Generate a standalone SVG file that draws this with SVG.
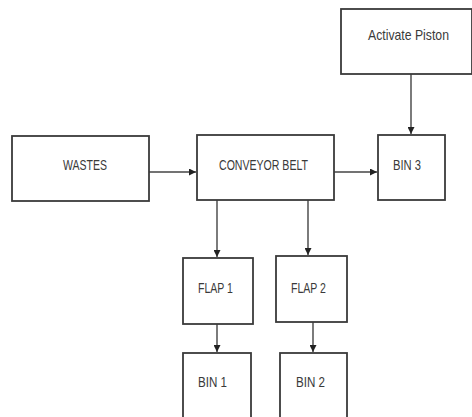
<svg xmlns="http://www.w3.org/2000/svg" width="472" height="417" viewBox="0 0 472 417">
<defs>
<style>
.box{fill:#fff;stroke:#3a3a3a;stroke-width:1.8}
.lbl{font-family:"Liberation Sans",Arial,sans-serif;font-size:14.5px;fill:#3a3a3a;text-anchor:middle;dominant-baseline:central}
.conn{stroke:#444;stroke-width:1.4;fill:none;marker-end:url(#ah)}
</style>
<marker id="ah" viewBox="0 0 10 10" refX="10" refY="5" markerWidth="7" markerHeight="7" markerUnits="userSpaceOnUse" orient="auto">
<path d="M0,0 L10,5 L0,10 z" fill="#222"/>
</marker>
</defs>
<rect width="472" height="417" fill="#fff"/>
<g id="connectors">
<line class="conn" x1="411" y1="74" x2="411" y2="134"/>
<line class="conn" x1="149" y1="172" x2="196" y2="172"/>
<line class="conn" x1="334" y1="172" x2="377" y2="172"/>
<line class="conn" x1="217" y1="200" x2="217" y2="257"/>
<line class="conn" x1="308" y1="200" x2="308" y2="255"/>
<line class="conn" x1="217" y1="324" x2="217" y2="352"/>
<line class="conn" x1="313" y1="322" x2="313" y2="352"/>
</g>
<g id="piston">
<rect class="box" x="341" y="9" width="131" height="65"/>
<text class="lbl" x="408.5" y="35" textLength="81" lengthAdjust="spacingAndGlyphs">Activate Piston</text>
</g>
<g id="wastes">
<rect class="box" x="12" y="136" width="137" height="65"/>
<text class="lbl" x="85" y="165" textLength="44" lengthAdjust="spacingAndGlyphs">WASTES</text>
</g>
<g id="conveyor">
<rect class="box" x="197" y="135" width="137" height="65"/>
<text class="lbl" x="263.5" y="165" textLength="89" lengthAdjust="spacingAndGlyphs">CONVEYOR BELT</text>
</g>
<g id="bin3">
<rect class="box" x="378" y="135" width="67" height="65"/>
<text class="lbl" x="407" y="165" textLength="28" lengthAdjust="spacingAndGlyphs">BIN 3</text>
</g>
<g id="flap1">
<rect class="box" x="183" y="258" width="70" height="66"/>
<text class="lbl" x="215.5" y="288" textLength="35" lengthAdjust="spacingAndGlyphs">FLAP 1</text>
</g>
<g id="flap2">
<rect class="box" x="276" y="256" width="71" height="66"/>
<text class="lbl" x="308.5" y="288" textLength="35" lengthAdjust="spacingAndGlyphs">FLAP 2</text>
</g>
<g id="bin1">
<rect class="box" x="183" y="353" width="68" height="70"/>
<text class="lbl" x="212.5" y="382" textLength="29" lengthAdjust="spacingAndGlyphs">BIN 1</text>
</g>
<g id="bin2">
<rect class="box" x="280" y="353" width="67" height="70"/>
<text class="lbl" x="310.5" y="382" textLength="29" lengthAdjust="spacingAndGlyphs">BIN 2</text>
</g>
</svg>
